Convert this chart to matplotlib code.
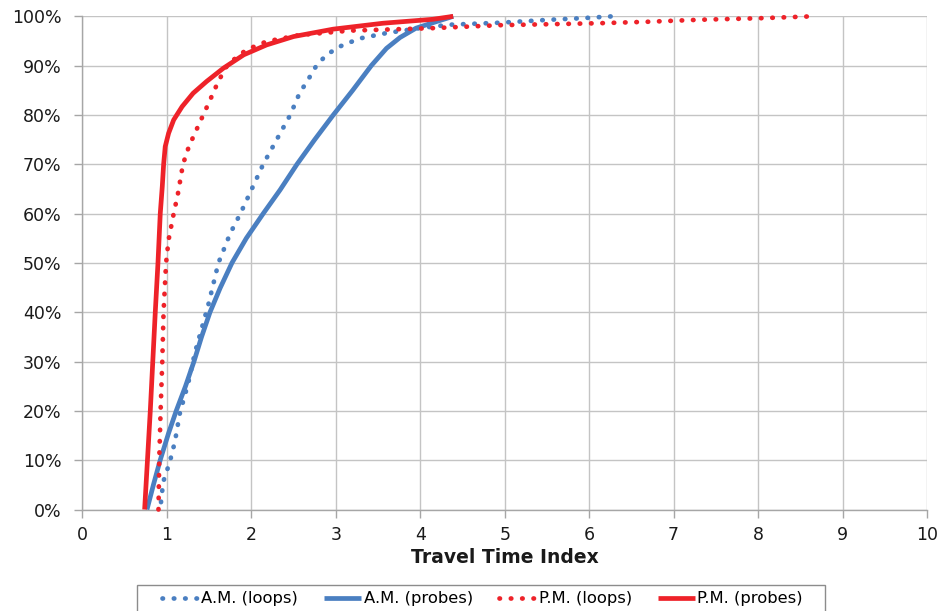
import matplotlib
matplotlib.use("Agg")
import matplotlib.pyplot as plt
from matplotlib.patches import Rectangle
from matplotlib.ticker import PercentFormatter

plt.rcParams['font.family'] = ['DejaVu Sans']

# Cumulative distributions of the Travel Time Index (percent of observations)
am_loops_x = [0.93, 0.956, 1.035, 1.095, 1.154, 1.252, 1.33, 1.49, 1.61, 1.75, 1.87, 2.00,
              2.14, 2.30, 2.46, 2.57, 2.67, 2.77, 2.89, 3.05, 3.28, 3.60, 3.99, 4.35,
              4.94, 5.53, 5.89, 6.28]
am_loops_y = [1.5, 5.6, 9.7, 13.8, 19.6, 25.6, 31.7, 41.5, 50, 56, 60, 64.8,
              70, 75, 80, 84.4, 87.1, 90, 92.2, 93.9, 95.5, 96.6, 97.6, 98.3,
              98.7, 99.3, 99.6, 100]

am_probes_x = [0.764, 0.84, 0.92, 1.02, 1.11, 1.22, 1.32, 1.41, 1.51, 1.63, 1.77, 1.94,
               2.14, 2.34, 2.54, 2.75, 2.97, 3.20, 3.42, 3.60, 3.76, 3.95, 4.15, 4.39]
am_probes_y = [0, 5, 10, 15.5, 20, 25, 30, 35, 40, 44.9, 50, 55,
               60, 64.8, 70, 75, 80, 85, 90, 93.5, 95.7, 97.6, 98.7, 100]

pm_loops_x = [0.90, 0.909, 0.925, 0.945, 0.96, 0.99, 1.02, 1.08, 1.13, 1.19, 1.26, 1.35,
              1.43, 1.51, 1.59, 1.69, 1.79, 1.94, 2.18, 2.57, 3.17, 3.76, 4.15, 4.94,
              6.12, 6.7, 7.3, 8.0, 8.65]
pm_loops_y = [0, 10, 20, 30, 40, 50, 54.7, 60, 64, 70, 73.6, 77,
              80, 83, 86.1, 89.5, 91.2, 93.2, 94.9, 96.2, 97.1, 97.4, 97.6, 98.2,
              98.6, 98.9, 99.3, 99.6, 100]

pm_probes_x = [0.736, 0.803, 0.862, 0.894, 0.921, 0.945, 0.961, 0.98, 1.02, 1.08, 1.18,
               1.31, 1.47, 1.67, 1.91, 2.18, 2.50, 2.97, 3.56, 4.15, 4.39]
pm_probes_y = [0, 20, 40, 50, 60, 65.5, 70, 73.6, 76.3, 79, 81.7,
               84.4, 86.8, 89.5, 92.2, 94.2, 95.9, 97.4, 98.6, 99.4, 100]

series_labels = ['A.M. (loops)', 'A.M. (probes)', 'P.M. (loops)', 'P.M. (probes)']
x_ticks = list(range(0, 11))
y_ticks = list(range(0, 101, 10))

BLUE = '#4a7fc1'
RED = '#ee2229'

W, H = 948, 611
fig = plt.figure(figsize=(W / 100, H / 100), dpi=100)
ax = fig.add_axes([0.087, 0.1661, 0.8908, 0.8072])
ax.set_axisbelow(True)

dot = (0, (0.1, 2.3))
common = dict(lw=3.4, clip_on=False)
ax.plot(am_loops_x, am_loops_y, color=BLUE, linestyle=dot,
        dash_capstyle='round', label=series_labels[0], zorder=3, **common)
ax.plot(am_probes_x, am_probes_y, color=BLUE, solid_capstyle='butt',
        solid_joinstyle='round', label=series_labels[1], zorder=3, **common)
ax.plot(pm_loops_x, pm_loops_y, color=RED, linestyle=dot,
        dash_capstyle='round', label=series_labels[2], zorder=4, **common)
ax.plot(pm_probes_x, pm_probes_y, color=RED, solid_capstyle='butt',
        solid_joinstyle='round', label=series_labels[3], zorder=4, **common)

ax.set_xlim(0, 10)
ax.set_ylim(0, 100)
ax.set_xticks(x_ticks)
ax.set_yticks(y_ticks)
ax.yaxis.set_major_formatter(PercentFormatter(decimals=0))
ax.grid(True, color='#c4c4c4', linewidth=1.0)
for side in ['top', 'right']:
    ax.spines[side].set_visible(False)
for side in ['left', 'bottom']:
    ax.spines[side].set_color('#a6a6a6')
    ax.spines[side].set_linewidth(1.0)
ax.tick_params(axis='both', colors='#a6a6a6', length=6, width=1.0,
               labelcolor='#1a1a1a', labelsize=12.5)
ax.tick_params(axis='x', pad=6)
ax.tick_params(axis='y', pad=9)

ax.set_xlabel('Travel Time Index', fontsize=13.5, fontweight='bold',
              color='#1a1a1a', labelpad=3)

# legend strip below the chart, with its own outlined box
leg = fig.legend(loc='center left', bbox_to_anchor=(162 / W, 1 - 599 / H),
                 ncol=4, fontsize=11.8, frameon=False,
                 handlelength=2.25, handletextpad=0.15,
                 columnspacing=1.6, borderpad=0, borderaxespad=0)
fig.patches.append(Rectangle((137 / W, 1 - 618 / H), (825 - 137) / W, 33 / H,
                             transform=fig.transFigure, fill=False,
                             edgecolor='#8c8c8c', linewidth=1.0))

fig.savefig('out.png', dpi=100)
